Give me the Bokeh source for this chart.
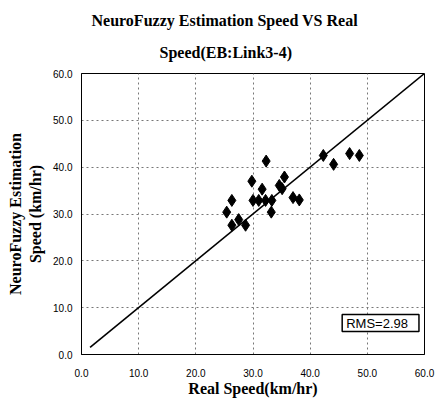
from bokeh.plotting import figure
from bokeh.models import FixedTicker, PrintfTickFormatter, Label, Range1d, Title
from bokeh.embed import file_html
from bokeh.resources import INLINE

# Data
real_speed = [32.3, 44.1, 42.3, 46.9, 48.6, 35.5, 29.8, 31.6, 34.6, 35.1,
              26.3, 30.0, 31.0, 32.2, 33.3, 37.0, 38.1, 25.4, 33.2, 27.5,
              26.3, 28.7]
est_speed = [41.3, 40.6, 42.5, 42.9, 42.5, 37.9, 37.0, 35.3, 36.1, 35.4,
             32.9, 32.9, 32.9, 32.9, 32.9, 33.5, 33.0, 30.4, 30.4, 28.8,
             27.6, 27.6]
ref_line_x = [1.5, 60.0]
ref_line_y = [1.5, 60.0]
ticks = [0, 10, 20, 30, 40, 50, 60]
rms_text = "RMS=2.98"
title_line1 = "NeuroFuzzy Estimation Speed VS Real"
title_line2 = "Speed(EB:Link3-4)"
x_label = "Real Speed(km/hr)"
y_label = "NeuroFuzzy Estimation\nSpeed (km/hr)"

SERIF = "Liberation Serif"
SANS = "Liberation Sans"

p = figure(width=435, height=399, output_backend="svg", toolbar_location=None,
           x_range=Range1d(0, 60), y_range=Range1d(0, 60),
           min_border_left=81, min_border_right=11, min_border_top=73,
           min_border_bottom=44)
p.title = None

t2 = Title(text=title_line2, align="left", offset=78, standoff=26,
           text_font=SERIF, text_font_size="16px", text_font_style="bold",
           text_color="black")
t1 = Title(text=title_line1, align="left", offset=10, standoff=0,
           text_font=SERIF, text_font_size="16px", text_font_style="bold",
           text_color="black")
p.add_layout(t2, "above")
p.add_layout(t1, "above")

p.outline_line_color = "black"
p.outline_line_width = 1

for ax in (p.xaxis[0], p.yaxis[0]):
    ax.ticker = FixedTicker(ticks=ticks)
    ax.formatter = PrintfTickFormatter(format="%.1f")
    ax.major_tick_line_color = None
    ax.minor_tick_line_color = None
    ax.axis_line_color = "black"
    ax.major_label_text_font = SANS
    ax.major_label_text_font_size = "10px"
    ax.major_label_text_color = "black"
    ax.axis_label_text_font = SERIF
    ax.axis_label_text_font_size = "16px"
    ax.axis_label_text_font_style = "bold"
    ax.axis_label_text_color = "black"

p.xaxis[0].axis_label = x_label
p.xaxis[0].major_label_standoff = 8
p.xaxis[0].axis_label_standoff = 0
p.yaxis[0].axis_label = y_label
p.yaxis[0].major_label_standoff = 3
p.yaxis[0].axis_label_standoff = 6

for g in (p.xgrid[0], p.ygrid[0]):
    g.ticker = FixedTicker(ticks=ticks)
    g.grid_line_color = "#777777"
    g.grid_line_dash = "2 3"
    g.grid_line_width = 1

p.line(ref_line_x, ref_line_y, line_color="black", line_width=1.6)
p.scatter(real_speed, est_speed, marker="diamond", size=12,
          fill_color="black", line_color="black")

rms = Label(x=45.6, y=4.9, text=rms_text, text_font=SANS, text_font_size="13px",
            text_color="black", border_line_color="black", border_line_width=1.5,
            background_fill_color="white",
            padding=dict(left=4, right=11, top=1, bottom=1))
p.add_layout(rms)

open("out.html", "w").write(file_html(p, INLINE))
